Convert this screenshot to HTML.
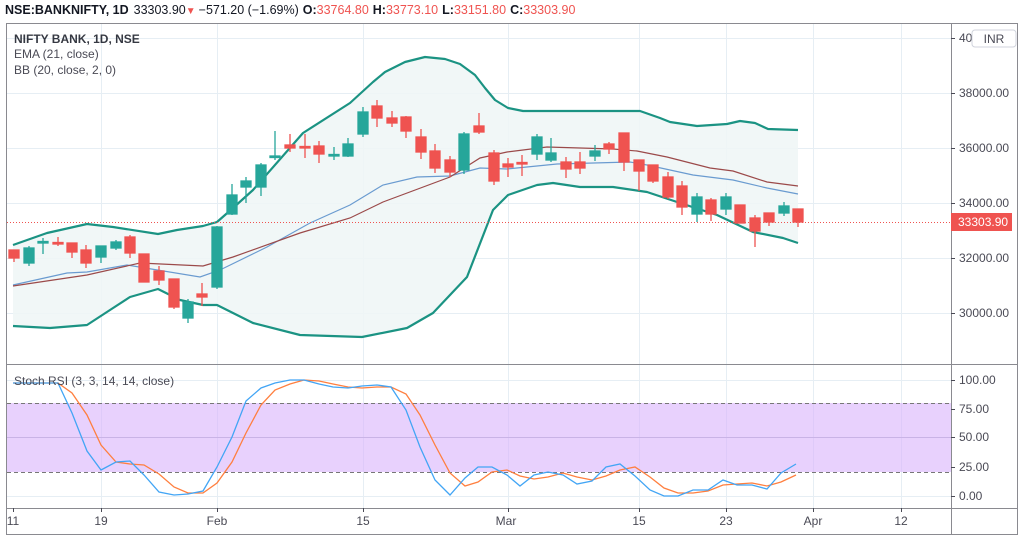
<!DOCTYPE html>
<html><head><meta charset="utf-8"><style>
body{margin:0;background:#fff;width:1024px;height:541px;overflow:hidden;font-family:"Liberation Sans",sans-serif}
svg text{font-family:"Liberation Sans",sans-serif}
</style></head><body>
<svg width="1024" height="541" viewBox="0 0 1024 541" xmlns="http://www.w3.org/2000/svg">
<rect width="1024" height="541" fill="#fff"/>
<!-- header -->
<text x="5" y="14" font-size="12.5" fill="#131722"><tspan font-weight="bold">NSE:BANKNIFTY, 1D</tspan><tspan dx="5">33303.90</tspan><tspan fill="#ef5350" font-size="10">▼</tspan><tspan dx="3">−571.20 (−1.69%)</tspan><tspan dx="4" font-weight="bold">O:</tspan><tspan fill="#ef5350">33764.80</tspan><tspan dx="4" font-weight="bold">H:</tspan><tspan fill="#ef5350">33773.10</tspan><tspan dx="4" font-weight="bold">L:</tspan><tspan fill="#ef5350">33151.80</tspan><tspan dx="4" font-weight="bold">C:</tspan><tspan fill="#ef5350">33303.90</tspan></text>
<!-- frame -->
<rect x="6.5" y="23.5" width="1011" height="511" fill="none" stroke="#8a8a90" stroke-width="1"/>
<!-- grid -->
<g stroke="#e6eef4" stroke-width="1">
<line x1="7" y1="38.5" x2="951" y2="38.5"/><line x1="7" y1="93.5" x2="951" y2="93.5"/><line x1="7" y1="148.5" x2="951" y2="148.5"/><line x1="7" y1="203.5" x2="951" y2="203.5"/><line x1="7" y1="258.5" x2="951" y2="258.5"/><line x1="7" y1="313.5" x2="951" y2="313.5"/>
<line x1="7" y1="380.5" x2="951" y2="380.5"/><line x1="7" y1="437.5" x2="951" y2="437.5"/><line x1="7" y1="496.5" x2="951" y2="496.5"/>
<line x1="101.5" y1="24" x2="101.5" y2="508"/><line x1="217.5" y1="24" x2="217.5" y2="508"/><line x1="363.5" y1="24" x2="363.5" y2="508"/><line x1="508.5" y1="24" x2="508.5" y2="508"/><line x1="639.5" y1="24" x2="639.5" y2="508"/><line x1="726.5" y1="24" x2="726.5" y2="508"/><line x1="813.5" y1="24" x2="813.5" y2="508"/><line x1="901.5" y1="24" x2="901.5" y2="508"/>
</g>
<!-- BB fill -->
<path d="M13,245 L47,233 L87,224 L113,227 L158,234 L177,230 L203,226 L217,222 L233,208 L253,190 L303,133 L350,103 L373,82 L385,72 L405,62 L425,57 L445,59 L460,64 L475,75 L485,88 L495,100 L508,108 L523,111 L640,111 L660,118 L670,122 L697,126 L727,124 L740,121 L755,123 L768,129 L798,130 L798,243 L783,238 L753,232 L717,215 L677,202 L647,192 L613,187 L580,187 L553,183 L537,185 L508,195 L493,210 L467,277 L433,313 L407,328 L362,337 L300,335 L253,323 L217,305 L203,305 L180,300 L158,289 L130,297 L110,310 L87,325 L50,328 L13,326 Z" fill="#eef6f6" fill-opacity="0.85"/>
<g fill="none" stroke="#1b9383" stroke-width="2.2" stroke-linejoin="round">
<polyline points="13,245 47,233 87,224 113,227 158,234 177,230 203,226 217,222 233,208 253,190 303,133 350,103 373,82 385,72 405,62 425,57 445,59 460,64 475,75 485,88 495,100 508,108 523,111 640,111 660,118 670,122 697,126 727,124 740,121 755,123 768,129 798,130"/>
<polyline points="13,326 50,328 87,325 110,310 130,297 158,289 180,300 203,305 217,305 253,323 300,335 362,337 407,328 433,313 467,277 493,210 508,195 537,185 553,183 580,187 613,187 647,192 677,202 717,215 753,232 783,238 798,243"/>
</g>
<polyline fill="none" stroke="#6a9bd0" stroke-width="1.2" points="13,285 67,273 87,272 127,265 200,277 220,270 267,247 310,223 350,205 383,185 417,177 450,176 480,168 507,169 557,164 630,162 647,165 693,175 733,180 767,188 798,194"/>
<polyline fill="none" stroke="#9b4a4a" stroke-width="1.2" points="13,286 87,275 140,263 203,266 233,257 300,233 350,218 383,202 450,177 480,158 507,152 547,147 613,149 637,151 667,157 710,168 733,171 767,182 798,186"/>
<!-- candles -->
<g stroke-width="1.3">
<g fill="#ef5350" stroke="#ef5350">
<line x1="14" y1="250" x2="14" y2="262"/><rect x="9" y="250" width="10" height="8"/>
<line x1="58" y1="237" x2="58" y2="246"/><rect x="53" y="242.5" width="10" height="1.5"/>
<line x1="72" y1="243" x2="72" y2="258"/><rect x="67" y="243" width="10" height="9"/>
<line x1="86" y1="245" x2="86" y2="268"/><rect x="81" y="250" width="10" height="13"/>
<line x1="130" y1="235" x2="130" y2="258"/><rect x="125" y="237" width="10" height="16"/>
<line x1="144" y1="254" x2="144" y2="282"/><rect x="139" y="254" width="10" height="28"/>
<line x1="159" y1="266" x2="159" y2="285"/><rect x="154" y="271" width="10" height="9"/>
<line x1="174" y1="279" x2="174" y2="309"/><rect x="169" y="279" width="10" height="28"/>
<line x1="202" y1="283" x2="202" y2="306"/><rect x="197" y="294" width="10" height="3"/>
<line x1="290" y1="134" x2="290" y2="152"/><rect x="285" y="145" width="10" height="3"/>
<line x1="305" y1="134" x2="305" y2="158"/><rect x="300" y="146.5" width="10" height="1.5"/>
<line x1="319" y1="141" x2="319" y2="163"/><rect x="314" y="146" width="10" height="8"/>
<line x1="377" y1="100" x2="377" y2="127"/><rect x="372" y="106" width="10" height="12"/>
<line x1="392" y1="111" x2="392" y2="127"/><rect x="387" y="118" width="10" height="5"/>
<line x1="406" y1="116" x2="406" y2="138"/><rect x="401" y="117" width="10" height="14"/>
<line x1="421" y1="129" x2="421" y2="159"/><rect x="416" y="137" width="10" height="15"/>
<line x1="435" y1="144" x2="435" y2="173"/><rect x="430" y="151" width="10" height="17"/>
<line x1="450" y1="156" x2="450" y2="177"/><rect x="445" y="160" width="10" height="12"/>
<line x1="479" y1="113" x2="479" y2="134"/><rect x="474" y="126" width="10" height="6"/>
<line x1="494" y1="150" x2="494" y2="185"/><rect x="489" y="153" width="10" height="28"/>
<line x1="508" y1="158" x2="508" y2="177"/><rect x="503" y="164" width="10" height="3"/>
<line x1="522" y1="155" x2="522" y2="176"/><rect x="517" y="162.5" width="10" height="1.5"/>
<line x1="566" y1="157" x2="566" y2="178"/><rect x="561" y="162" width="10" height="7"/>
<line x1="580" y1="152" x2="580" y2="174"/><rect x="575" y="162" width="10" height="6"/>
<line x1="609" y1="142" x2="609" y2="154"/><rect x="604" y="144" width="10" height="5"/>
<line x1="624" y1="133" x2="624" y2="171"/><rect x="619" y="133" width="10" height="29"/>
<line x1="639" y1="160" x2="639" y2="191"/><rect x="634" y="160" width="10" height="11"/>
<line x1="653" y1="165" x2="653" y2="183"/><rect x="648" y="165" width="10" height="16"/>
<line x1="668" y1="172" x2="668" y2="199"/><rect x="663" y="177" width="10" height="20"/>
<line x1="682" y1="181" x2="682" y2="215"/><rect x="677" y="186" width="10" height="21"/>
<line x1="711" y1="198" x2="711" y2="221"/><rect x="706" y="200" width="10" height="14"/>
<line x1="740" y1="205" x2="740" y2="223"/><rect x="735" y="205" width="10" height="18"/>
<line x1="755" y1="215" x2="755" y2="247"/><rect x="750" y="218" width="10" height="13"/>
<line x1="769" y1="213" x2="769" y2="226"/><rect x="764" y="213" width="10" height="9"/>
<line x1="798" y1="209" x2="798" y2="227"/><rect x="793" y="209" width="10" height="13"/>
</g>
<g fill="#26a69a" stroke="#26a69a">
<line x1="29" y1="246" x2="29" y2="266"/><rect x="24" y="248" width="10" height="15"/>
<line x1="43" y1="238" x2="43" y2="254"/><rect x="38" y="241.5" width="10" height="1.5"/>
<line x1="101" y1="246" x2="101" y2="263"/><rect x="96" y="246" width="10" height="11"/>
<line x1="116" y1="240" x2="116" y2="250"/><rect x="111" y="242" width="10" height="6"/>
<line x1="188" y1="299" x2="188" y2="323"/><rect x="183" y="302" width="10" height="16"/>
<line x1="217" y1="226" x2="217" y2="289"/><rect x="212" y="227" width="10" height="60"/>
<line x1="232" y1="184" x2="232" y2="215"/><rect x="227" y="195" width="10" height="19"/>
<line x1="246" y1="177" x2="246" y2="203"/><rect x="241" y="181" width="10" height="6"/>
<line x1="261" y1="163" x2="261" y2="196"/><rect x="256" y="165" width="10" height="22"/>
<line x1="275" y1="131" x2="275" y2="160"/><rect x="270" y="156" width="10" height="1.5"/>
<line x1="334" y1="147" x2="334" y2="160"/><rect x="329" y="154.5" width="10" height="1.5"/>
<line x1="348" y1="138" x2="348" y2="157"/><rect x="343" y="144" width="10" height="12"/>
<line x1="363" y1="107" x2="363" y2="137"/><rect x="358" y="112" width="10" height="22"/>
<line x1="464" y1="132" x2="464" y2="174"/><rect x="459" y="134" width="10" height="36"/>
<line x1="537" y1="134" x2="537" y2="160"/><rect x="532" y="137" width="10" height="17"/>
<line x1="551" y1="138" x2="551" y2="162"/><rect x="546" y="153" width="10" height="7"/>
<line x1="595" y1="145" x2="595" y2="161"/><rect x="590" y="151" width="10" height="5"/>
<line x1="697" y1="193" x2="697" y2="222"/><rect x="692" y="197" width="10" height="17"/>
<line x1="726" y1="193" x2="726" y2="215"/><rect x="721" y="197" width="10" height="12"/>
<line x1="784" y1="202" x2="784" y2="216"/><rect x="779" y="206" width="10" height="7"/>
</g></g>
<!-- last price line -->
<line x1="7" y1="222.5" x2="951" y2="222.5" stroke="#ef5350" stroke-width="1" stroke-dasharray="1,2"/>
<!-- legends -->
<text x="14" y="43" font-size="12" fill="#131722" font-weight="bold" opacity="0.85">NIFTY BANK, 1D, NSE</text>
<text x="14" y="58" font-size="12" fill="#4a4a55">EMA (21, close)</text>
<text x="14" y="74" font-size="12" fill="#4a4a55">BB (20, close, 2, 0)</text>
<!-- separator -->
<line x1="7" y1="364.5" x2="1017" y2="364.5" stroke="#8a8a90"/>
<line x1="951.5" y1="24" x2="951.5" y2="535" stroke="#8a8a90"/>
<line x1="7" y1="508.5" x2="1017" y2="508.5" stroke="#8a8a90"/>
<!-- stoch band -->
<rect x="7" y="403" width="944" height="69" fill="#d9b3fb" fill-opacity="0.6"/>
<line x1="7" y1="403.5" x2="951" y2="403.5" stroke="#777" stroke-dasharray="4,3"/>
<line x1="7" y1="472.5" x2="951" y2="472.5" stroke="#777" stroke-dasharray="4,3"/>
<line x1="7" y1="437.5" x2="951" y2="437.5" stroke="#c9b3e6"/>
<polyline fill="none" stroke="#ff7f3f" stroke-width="1.3" points="13,383 58,383 72,393 87,415 101,445 116,462 130,464 144,465 159,474 174,487 188,493 203,493 217,483 232,462 246,433 261,405 275,390 290,384 304,380 319,381 333,384 348,387 362,388 377,387 391,387 406,394 420,415 435,445 450,473 465,486 478,482 492,472 507,470 520,476 534,479 548,477 563,473 577,477 592,480 606,476 620,470 635,467 650,477 664,488 678,493 693,493 708,491 723,485 737,484 752,483 767,486 781,482 796,475"/>
<polyline fill="none" stroke="#42a5f5" stroke-width="1.3" points="13,383 58,383 72,413 87,451 101,470 116,462 130,461 144,475 159,492 174,495 188,494 203,491 217,467 232,437 246,401 261,388 275,383 290,380 304,380 319,384 333,387 348,388 362,386 377,385 391,387 406,410 420,447 435,480 450,495 465,478 478,467 492,467 507,475 520,486 534,475 548,472 563,475 577,484 592,481 606,467 620,464 635,476 650,490 664,496 678,496 693,490 708,490 723,480 737,485 752,485 767,489 781,473 796,464"/>
<text x="14" y="385" font-size="12" fill="#4a4a55">Stoch RSI (3, 3, 14, 14, close)</text>
<!-- right axis labels -->
<g font-size="12" fill="#4a4a55" stroke="#4a4a55">
<line x1="951" y1="38.5" x2="955" y2="38.5"/><line x1="951" y1="93.5" x2="955" y2="93.5"/><line x1="951" y1="148.5" x2="955" y2="148.5"/><line x1="951" y1="203.5" x2="955" y2="203.5"/><line x1="951" y1="258.5" x2="955" y2="258.5"/><line x1="951" y1="313.5" x2="955" y2="313.5"/>
<line x1="951" y1="380.5" x2="955" y2="380.5"/><line x1="951" y1="409.5" x2="955" y2="409.5"/><line x1="951" y1="437.5" x2="955" y2="437.5"/><line x1="951" y1="467.5" x2="955" y2="467.5"/><line x1="951" y1="496.5" x2="955" y2="496.5"/>
</g>
<g font-size="12" fill="#4a4a55">
<text x="959" y="42">40000.00</text>
<text x="959" y="97">38000.00</text><text x="959" y="152">36000.00</text><text x="959" y="207">34000.00</text><text x="959" y="262">32000.00</text><text x="959" y="317">30000.00</text>
<text x="959" y="384">100.00</text><text x="959" y="413">75.00</text><text x="959" y="441">50.00</text><text x="959" y="471">25.00</text><text x="959" y="500">0.00</text>
</g>
<rect x="972" y="30" width="44" height="17" rx="3" fill="#fff" stroke="#d0d3dc"/>
<text x="994" y="43" font-size="12" fill="#4a4a55" text-anchor="middle">INR</text>
<rect x="951" y="213" width="61" height="18" fill="#ef5350"/>
<text x="958" y="226" font-size="12" fill="#fff">33303.90</text>
<!-- time axis -->
<g stroke="#4a4a55"><line x1="13.5" y1="508" x2="13.5" y2="512"/><line x1="101.5" y1="508" x2="101.5" y2="512"/><line x1="217.5" y1="508" x2="217.5" y2="512"/><line x1="363.5" y1="508" x2="363.5" y2="512"/><line x1="508.5" y1="508" x2="508.5" y2="512"/><line x1="639.5" y1="508" x2="639.5" y2="512"/><line x1="726.5" y1="508" x2="726.5" y2="512"/><line x1="813.5" y1="508" x2="813.5" y2="512"/><line x1="901.5" y1="508" x2="901.5" y2="512"/></g>
<g font-size="12" fill="#4a4a55" text-anchor="middle">
<text x="13" y="525">11</text><text x="101" y="525">19</text><text x="217" y="525">Feb</text><text x="363" y="525">15</text><text x="506" y="525">Mar</text><text x="639" y="525">15</text><text x="726" y="525">23</text><text x="813" y="525">Apr</text><text x="901" y="525">12</text>
</g>
</svg>
</body></html>
